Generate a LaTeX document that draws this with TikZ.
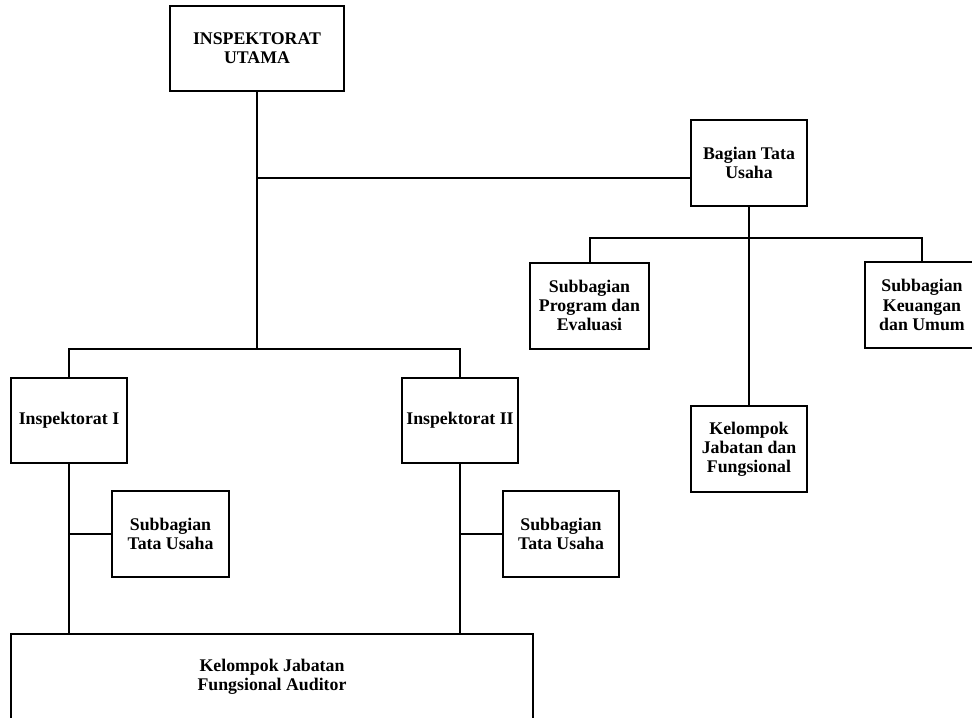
\documentclass[tikz,border=0pt]{standalone}
\usepackage{fontspec}
\setmainfont{Liberation Serif}
\usepackage{tikz}
\usetikzlibrary{calc}
\newcommand\orgfont[0]{\fontsize{8.9}{9.6}\selectfont\bfseries}

\begin{document}
\begin{tikzpicture}[x=0.5pt,y=-0.5pt,
  orgbox/.style={draw=black,line width=1pt,fill=white,align=center,inner sep=2pt,
    minimum width=58pt,minimum height=43pt,font=\orgfont},
  orgline/.style={draw=black,line width=1pt}]

\useasboundingbox (0,0) rectangle (972,717);

% boxes
\node[orgbox,minimum width=87pt,minimum height=42.5pt] (utama) at (257,48.5) {INSPEKTORAT\\UTAMA};
\node[orgbox] (bagian) at (749,163) {Bagian Tata\\Usaha};
\node[orgbox,minimum width=59.5pt] (prog) at (589.5,305.5) {Subbagian\\Program dan\\Evaluasi};
\node[orgbox,minimum width=57pt] (keu) at (922,305) {Subbagian\\Keuangan\\dan Umum};
\node[orgbox] (kjf) at (749,449) {Kelompok\\Jabatan dan\\Fungsional};
\node[orgbox,minimum height=42.5pt] (inspA) at (69,420.5) {Inspektorat I};
\node[orgbox,minimum height=42.5pt] (inspB) at (460,420.5) {Inspektorat II};
\node[orgbox,minimum width=58.5pt] (subA) at (170.5,534) {Subbagian\\Tata Usaha};
\node[orgbox] (subB) at (561,534) {Subbagian\\Tata Usaha};
\node[orgbox,minimum width=261pt] (auditor) at (272,677) {Kelompok Jabatan\\Fungsional Auditor};

% bus points
\coordinate (busTU) at (257,178);
\coordinate (busInsp) at (257,349);
\coordinate (busBag) at (749,238);

% connectors
\draw[orgline] (utama.south) -- (busInsp);
\draw[orgline] (busTU) -- (busTU -| bagian.west);
\draw[orgline] (inspA.north) |- (busInsp) -| (inspB.north);
\draw[orgline] (bagian.south) -- (kjf.north);
\draw[orgline] (prog.north) |- (busBag) -| (keu.north);
\draw[orgline] (inspA.south) -- (inspA.south |- auditor.north);
\draw[orgline] (inspB.south) -- (inspB.south |- auditor.north);
\draw[orgline] (subA.west) -- (subA.west -| inspA.south);
\draw[orgline] (subB.west) -- (subB.west -| inspB.south);

\end{tikzpicture}
\end{document}
